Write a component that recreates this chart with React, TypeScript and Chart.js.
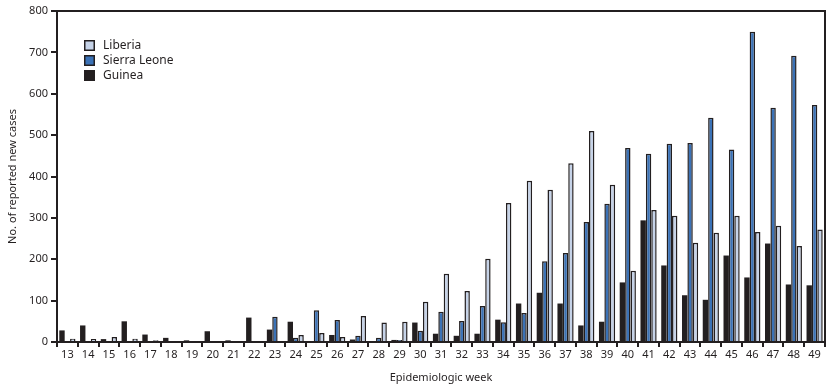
import React, { useEffect, useRef } from "react";
import { Chart, registerables } from "chart.js";

Chart.register(...registerables);

const weeks = ["13","14","15","16","17","18","19","20","21","22","23","24","25","26","27","28","29","30","31","32","33","34","35","36","37","38","39","40","41","42","43","44","45","46","47","48","49"];
const guinea = [28,40,7,50,18,10,4,26,4,59,30,49,0,17,6,0,5,47,20,15,20,54,93,119,93,40,49,144,294,185,113,102,209,156,238,139,137];
const sierraLeone = [0,0,0,0,0,0,0,0,0,2,61,10,77,53,15,10,5,27,73,51,87,48,70,195,215,290,334,469,455,479,481,542,465,750,566,692,573];
const liberia = [8,7,12,8,4,0,0,0,0,2,0,17,22,12,63,47,49,97,165,123,201,336,390,368,432,510,380,172,319,305,240,264,305,266,281,232,272];
const yTicks = [0,100,200,300,400,500,600,700,800];

const DARK = "#231f20";
const FONT = "'Noto Sans', sans-serif";

const framePlugin = {
  id: "frame",
  afterDraw(chart: any) {
    const { ctx, chartArea } = chart;
    ctx.save();
    ctx.strokeStyle = DARK;
    ctx.lineWidth = 2;
    ctx.beginPath();
    ctx.moveTo(chartArea.left, chartArea.top);
    ctx.lineTo(chartArea.right, chartArea.top);
    ctx.lineTo(chartArea.right, chartArea.bottom);
    ctx.stroke();
    // legend
    const items = [
      { label: "Liberia", color: "#c6d3e8" },
      { label: "Sierra Leone", color: "#3b72b6" },
      { label: "Guinea", color: DARK },
    ];
    ctx.font = "12px " + FONT;
    ctx.textBaseline = "middle";
    items.forEach((it, i) => {
      const y = 40 + i * 15;
      ctx.fillStyle = it.color;
      ctx.fillRect(84, y, 11, 11);
      ctx.strokeStyle = DARK;
      ctx.lineWidth = 1.5;
      ctx.strokeRect(84.75, y + 0.75, 9.5, 9.5);
      ctx.fillStyle = DARK;
      ctx.fillText(it.label, 103, y + 5.5);
    });
    ctx.restore();
  },
};

export default function App() {
  const ref = useRef<HTMLCanvasElement>(null);
  useEffect(() => {
    if (!ref.current) return;
    const ds = (label: string, data: number[], color: string, bw: number) => ({
      label,
      data,
      backgroundColor: color,
      borderColor: DARK,
      borderWidth: bw,
      borderSkipped: "bottom" as const,
      categoryPercentage: 0.78,
      barPercentage: 1,
    });
    const chart = new Chart(ref.current, {
      type: "bar",
      data: {
        labels: weeks,
        datasets: [
          ds("Guinea", guinea, DARK, 0),
          ds("Sierra Leone", sierraLeone, "#3b72b6", 1.5),
          ds("Liberia", liberia, "#c6d3e8", 1.5),
        ],
      },
      options: {
        animation: false,
        responsive: false,
        maintainAspectRatio: false,
        layout: { padding: { top: 11, right: 8, left: 0, bottom: 0 } },
        plugins: { legend: { display: false }, tooltip: { enabled: false } },
        scales: {
          x: {
            grid: { display: true, drawOnChartArea: false, drawTicks: true, tickLength: 5, color: DARK, lineWidth: 2 },
            border: { display: true, color: DARK, width: 2 },
            ticks: { color: DARK, font: { family: FONT, size: 11 }, padding: 1, maxRotation: 0, autoSkip: false },
            title: { display: true, text: "Epidemiologic week", color: DARK, font: { family: FONT, size: 11 }, padding: { top: 2, bottom: 4 } },
            afterFit: (s: any) => { s.height = 46; },
          },
          y: {
            min: 0,
            max: 800,
            afterBuildTicks: (s: any) => { s.ticks = yTicks.map((v) => ({ value: v })); },
            grid: { display: true, drawOnChartArea: false, drawTicks: true, tickLength: 6, color: DARK, lineWidth: 2 },
            border: { display: true, color: DARK, width: 2 },
            ticks: { color: DARK, font: { family: FONT, size: 11 }, padding: 3 },
            title: { display: true, text: "No. of reported new cases", color: DARK, font: { family: FONT, size: 11 }, padding: { top: 6, bottom: 4 } },
            afterFit: (s: any) => { s.width = 57; },
          },
        },
      },
      plugins: [framePlugin],
    });
    return () => chart.destroy();
  }, []);
  return (
    <div style={{ position: "absolute", left: 0, top: 0, width: 833, height: 388, background: "#fff" }}>
      <canvas ref={ref} width={833} height={388} style={{ width: 833, height: 388 }} />
    </div>
  );
}
